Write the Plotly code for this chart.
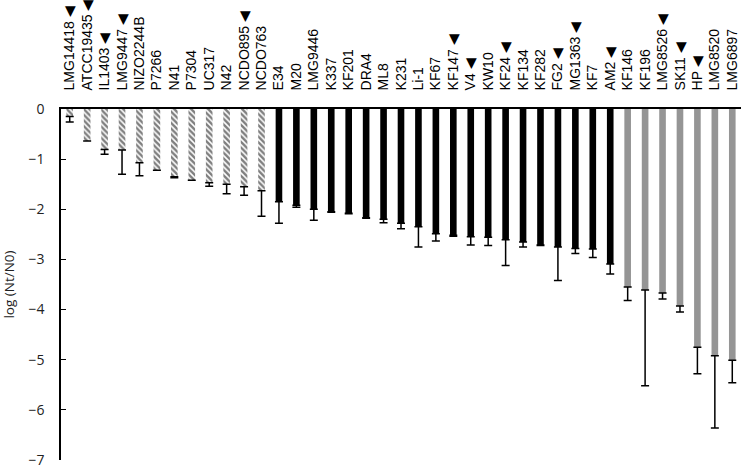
import plotly.graph_objects as go

strains = ["LMG14418", "ATCC19435", "IL1403", "LMG9447", "NIZO2244B", "P7266", "N41", "P7304",
           "UC317", "N42", "NCDO895", "NCDO763",
           "E34", "M20", "LMG9446", "K337", "KF201", "DRA4", "ML8", "K231", "Li-1", "KF67",
           "KF147", "V4", "KW10", "KF24", "KF134", "KF282", "FG2", "MG1363", "KF7", "AM2",
           "KF146", "KF196", "LMG8526", "SK11", "HP", "LMG8520", "LMG6897"]
log_reduction = [-0.15, -0.64, -0.81, -0.82, -1.07, -1.22, -1.35, -1.42, -1.47, -1.50, -1.55, -1.63,
                 -1.85, -1.92, -2.00, -2.05, -2.08, -2.17, -2.20, -2.28, -2.35, -2.49,
                 -2.52, -2.55, -2.56, -2.61, -2.65, -2.71, -2.75, -2.78, -2.79, -3.09,
                 -3.55, -3.61, -3.67, -3.93, -4.75, -4.92, -5.01]
err_minus = [0.11, 0.0, 0.09, 0.48, 0.26, 0.0, 0.02, 0.0, 0.07, 0.19, 0.17, 0.51,
             0.43, 0.04, 0.22, 0.01, 0.01, 0.01, 0.07, 0.11, 0.40, 0.14,
             0.02, 0.16, 0.16, 0.51, 0.10, 0.01, 0.67, 0.10, 0.17, 0.20,
             0.27, 1.91, 0.12, 0.12, 0.53, 1.44, 0.45]
group = ["hatched"] * 12 + ["black"] * 20 + ["gray"] * 7
marked = ["LMG14418", "ATCC19435", "IL1403", "LMG9447", "NCDO895", "KF147", "V4", "KF24",
          "FG2", "MG1363", "AM2", "LMG8526", "SK11", "HP"]
y_ticks = [0, -1, -2, -3, -4, -5, -6, -7]

tick_text = [s + " \u25C0" if s in marked else s for s in strains]

fig = go.Figure()
styles = {
    "hatched": dict(color="white", pattern=dict(shape="\\", fgcolor="black", bgcolor="white",
                                                   size=4, solidity=0.62)),
    "black": dict(color="black"),
    "gray": dict(color="#959595"),
}
for g in ["hatched", "black", "gray"]:
    idx = [i for i, gg in enumerate(group) if gg == g]
    fig.add_trace(go.Bar(
        x=[strains[i] for i in idx],
        y=[log_reduction[i] for i in idx],
        width=0.38,
        marker=dict(**styles[g], line=dict(width=0)),
        error_y=dict(type="data", symmetric=False,
                     array=[0] * len(idx),
                     arrayminus=[err_minus[i] for i in idx],
                     color="black", thickness=1.5, width=4),
        showlegend=False,
        hoverinfo="skip",
    ))

fig.update_layout(
    width=742, height=465,
    margin=dict(l=61, r=1, t=109, b=5),
    plot_bgcolor="white", paper_bgcolor="white",
    barmode="overlay",
    font=dict(family="Liberation Sans, Arial, sans-serif", color="black"),
)
fig.update_xaxes(
    type="category", categoryorder="array", categoryarray=strains,
    side="top", tickangle=-90, automargin=False,
    tickmode="array", tickvals=strains, ticktext=tick_text,
    tickfont=dict(size=14, family="Liberation Sans, Arial, sans-serif", color="black"),
    showline=True, linecolor="black", linewidth=1.5,
    ticks="", showgrid=False, ticklabelstandoff=14,
)
fig.update_yaxes(
    range=[-7, 0], tickmode="array", tickvals=y_ticks, automargin=False,
    ticks="inside", ticklen=5, tickcolor="black", tickwidth=1.2,
    showline=True, linecolor="black", linewidth=1.5,
    showgrid=False, zeroline=False, ticklabeloverflow="allow",
    tickfont=dict(size=14, family="Open Sans, sans-serif", color="#222"),
    ticklabelstandoff=12,
    title=dict(text="log (Nt/N0)", font=dict(size=13.5, family="Open Sans, sans-serif", color="#222"),
               standoff=12),
)

fig.write_html("out.html", config={"displayModeBar": False},
               post_script="document.body.style.margin='0';document.body.style.padding='0';")
